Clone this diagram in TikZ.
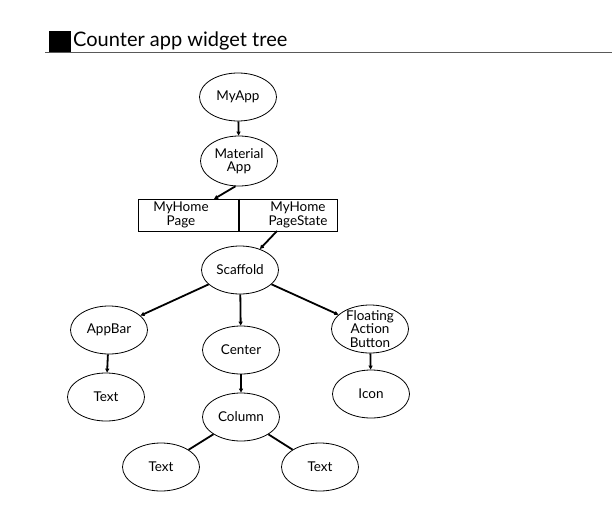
\documentclass[tikz,border=0pt]{standalone}
\usepackage{fontspec}
\setmainfont{Lato}
\usetikzlibrary{shapes.geometric,arrows.meta}

\tikzset{
  widget/.style={ellipse, draw, line width=0.8pt, minimum width=77pt, minimum height=48pt,
    inner sep=0pt, align=center, font=\fontsize{13.5}{13.5}\selectfont},
  statebox/.style={rectangle, draw, line width=0.8pt, minimum height=32pt, inner sep=0pt},
  boxtext/.style={inner sep=0pt, align=center, font=\fontsize{13.5}{13.5}\selectfont},
  link/.style={line width=1.8pt, -{Triangle[length=4pt,width=4pt]}},
  plainlink/.style={line width=1.8pt}
}

\begin{document}
\begin{tikzpicture}[x=1pt,y=-1pt]
            \useasboundingbox (0,0) rectangle (612,513);

            % draw title with black square and rule
            \fill (49,31) rectangle (71,52);
            \node[anchor=base west, inner sep=0pt, font=\fontsize{20}{22}\selectfont] (title) at (73,47) {Counter app widget tree};
            \draw[black!65, line width=1pt] (45,52.5) -- (612,52.5);

            % draw widgets
            \node[widget] (myapp) at (238,97) {MyApp};
            \node[widget, minimum height=50pt] (material) at (239,161) {Material\\App};
            \node[statebox, minimum width=101pt] (page) at (188.5,215) {};
            \node[statebox, minimum width=98pt] (state) at (288,215) {};
            \node[boxtext] (pagetext) at (181,215) {MyHome\\Page};
            \node[boxtext] (statetext) at (298,215) {MyHome\\PageState};
            \node[widget] (scaffold) at (240,270) {Scaffold};
            \node[widget] (appbar) at (109,330) {AppBar};
            \node[widget] (center) at (241,350) {Center};
            \node[widget, inner sep=-2pt] (fab) at (370,329) {Floating\\Action\\Button};
            \node[widget] (bartext) at (106,397) {Text};
            \node[widget] (column) at (241,417) {Column};
            \node[widget] (icon) at (371,394) {Icon};
            \node[widget] (lefttext) at (161,467) {Text};
            \node[widget] (righttext) at (320,467) {Text};

            % draw divider between the two boxes
            \draw[line width=2pt] (page.north east) -- (page.south east);

            % draw links
            \coordinate (pagein) at (214,199);
            \coordinate (stateout) at (277,231);
            \draw[link] (myapp) -- (material);
            \draw[link] (material.262) -- (pagein);
            \draw[link] (stateout) -- (scaffold);
            \draw[link] (scaffold) -- (appbar);
            \draw[link] (scaffold) -- (center);
            \draw[link] (scaffold) -- (fab);
            \draw[link] (appbar) -- (bartext);
            \draw[link] (center) -- (column);
            \draw[link] (fab) -- (icon);
            \draw[plainlink] (column) -- (lefttext);
            \draw[plainlink] (column) -- (righttext);
        \end{tikzpicture}
\end{document}
